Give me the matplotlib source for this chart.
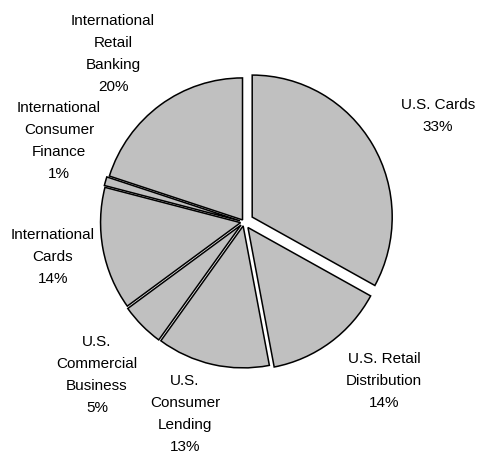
import matplotlib
matplotlib.use("Agg")
import matplotlib.pyplot as plt

categories = ["U.S. Cards", "U.S. Retail\nDistribution", "U.S.\nConsumer\nLending",
              "U.S.\nCommercial\nBusiness", "International\nCards",
              "International\nConsumer\nFinance", "International\nRetail\nBanking"]
values = [33, 14, 13, 5, 14, 1, 20]
explode = [0.068, 0.048, 0.028, 0.03, 0.025, 0.03, 0.018]
# label centres in pixels (layout only)
label_px = [(438, 116), (384, 381), (185, 414), (97, 375), (53, 257), (59, 141), (113, 54)]

plt.rcParams['font.family'] = ['Liberation Sans', 'DejaVu Sans']
W, H = 479, 453
fig = plt.figure(figsize=(W / 100, H / 100), dpi=100)
ax = fig.add_axes([0, 0, 1, 1])
cx, cy, rx, ry = 244, 222, 140, 142

wedges, texts = ax.pie(values, explode=explode, startangle=90, counterclock=False,
                       colors=["#c0c0c0"] * len(values),
                       wedgeprops=dict(edgecolor="black", linewidth=1.1),
                       labels=[f"{c}\n{v}%" for c, v in zip(categories, values)],
                       textprops=dict(fontsize=11, ha="center", va="center", linespacing=1.74))
for t, (px, py) in zip(texts, label_px):
    t.set_position(((px - cx) / rx, (cy - py) / ry))
    t.set_ha("center")
    t.set_va("center")

ax.set_xlim(-cx / rx, (W - cx) / rx)
ax.set_ylim((cy - H) / ry, cy / ry)
ax.set_aspect("auto")
ax.axis("off")
fig.savefig("out.png", dpi=100)
